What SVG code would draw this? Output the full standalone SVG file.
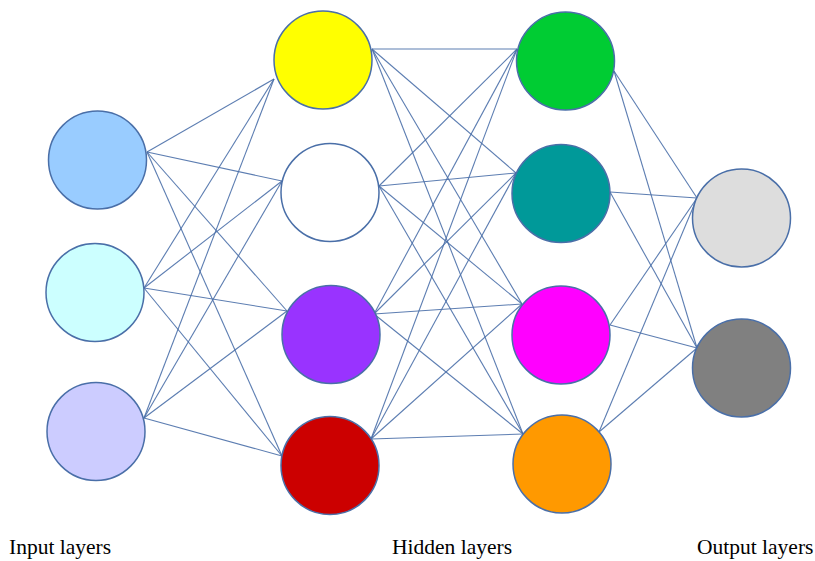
<svg xmlns="http://www.w3.org/2000/svg" width="815" height="561" viewBox="0 0 815 561">
<style>
.n{stroke:#4a6fa8;stroke-width:1.5}
.c line{stroke:#4a6fa8;stroke-width:1.1;stroke-opacity:0.9}
.t{font-family:"Liberation Serif","Times New Roman",serif;font-size:21.5px;fill:#000}
</style>
<rect width="815" height="561" fill="#fff"/>
<g id="connectors" class="c">
<!-- input -> hidden1 -->
<line x1="147" y1="152" x2="274" y2="79"/>
<line x1="147" y1="152" x2="282" y2="181"/>
<line x1="147" y1="152" x2="287" y2="311"/>
<line x1="147" y1="152" x2="282" y2="456"/>
<line x1="144" y1="288" x2="274" y2="79"/>
<line x1="144" y1="288" x2="282" y2="181"/>
<line x1="144" y1="288" x2="287" y2="311"/>
<line x1="144" y1="288" x2="282" y2="456"/>
<line x1="144" y1="418" x2="274" y2="79"/>
<line x1="144" y1="418" x2="282" y2="181"/>
<line x1="144" y1="418" x2="287" y2="311"/>
<line x1="144" y1="418" x2="282" y2="456"/>
<!-- hidden1 -> hidden2 -->
<line x1="372" y1="49" x2="517" y2="49"/>
<line x1="372" y1="49" x2="516" y2="173"/>
<line x1="372" y1="49" x2="522" y2="304"/>
<line x1="372" y1="49" x2="523" y2="434"/>
<line x1="379" y1="186" x2="517" y2="49"/>
<line x1="379" y1="186" x2="516" y2="173"/>
<line x1="379" y1="186" x2="522" y2="304"/>
<line x1="379" y1="186" x2="523" y2="434"/>
<line x1="374" y1="314" x2="517" y2="49"/>
<line x1="374" y1="314" x2="516" y2="173"/>
<line x1="374" y1="314" x2="522" y2="304"/>
<line x1="374" y1="314" x2="523" y2="434"/>
<line x1="371" y1="439" x2="517" y2="49"/>
<line x1="371" y1="439" x2="516" y2="173"/>
<line x1="371" y1="439" x2="522" y2="304"/>
<line x1="371" y1="439" x2="523" y2="434"/>
<!-- hidden2 -> output -->
<line x1="614" y1="71" x2="697" y2="198"/>
<line x1="614" y1="71" x2="697" y2="348"/>
<line x1="610" y1="192" x2="697" y2="198"/>
<line x1="610" y1="192" x2="697" y2="348"/>
<line x1="610" y1="325" x2="697" y2="198"/>
<line x1="610" y1="325" x2="697" y2="348"/>
<line x1="599" y1="432" x2="697" y2="198"/>
<line x1="599" y1="432" x2="697" y2="348"/>
</g>
<g id="in1"><circle class="n" cx="97.5" cy="160" r="49" fill="#99ccff"/></g>
<g id="in2"><circle class="n" cx="95" cy="292.5" r="49" fill="#ccffff"/></g>
<g id="in3"><circle class="n" cx="96" cy="431.5" r="49" fill="#ccccff"/></g>
<g id="h1a"><circle class="n" cx="323" cy="60" r="49" fill="#ffff00"/></g>
<g id="h1b"><circle class="n" cx="330" cy="192.5" r="49" fill="#ffffff"/></g>
<g id="h1c"><circle class="n" cx="331" cy="334.5" r="49" fill="#9933ff"/></g>
<g id="h1d"><circle class="n" cx="330" cy="465.5" r="49" fill="#cc0000"/></g>
<g id="h2a"><circle class="n" cx="565.5" cy="61" r="49" fill="#00cc33"/></g>
<g id="h2b"><circle class="n" cx="561" cy="193.5" r="49" fill="#009999"/></g>
<g id="h2c"><circle class="n" cx="561" cy="335" r="49" fill="#ff00ff"/></g>
<g id="h2d"><circle class="n" cx="562" cy="464" r="49" fill="#ff9900"/></g>
<g id="out1"><circle class="n" cx="741.5" cy="218" r="49" fill="#dddddd"/></g>
<g id="out2"><circle class="n" cx="741.5" cy="368" r="49" fill="#808080"/></g>
<g id="labels">
<text class="t" x="9" y="554">Input layers</text>
<text class="t" x="392" y="554">Hidden layers</text>
<text class="t" x="697" y="554">Output layers</text>
</g>
</svg>
